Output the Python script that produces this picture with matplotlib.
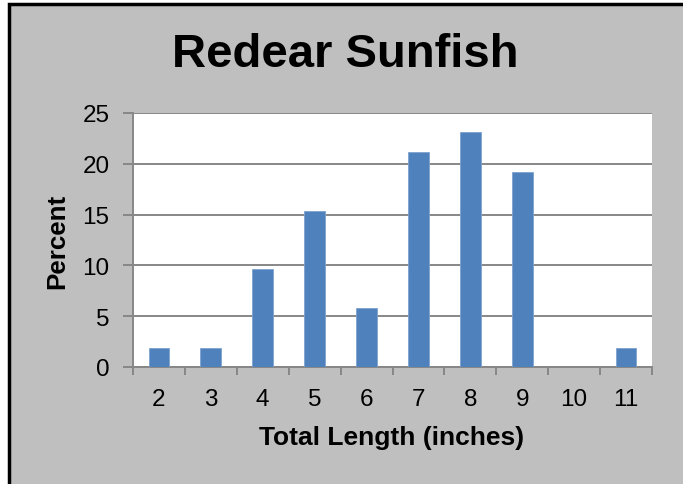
import matplotlib
matplotlib.use("Agg")
import matplotlib.pyplot as plt
from matplotlib.patches import Rectangle

lengths = [2, 3, 4, 5, 6, 7, 8, 9, 10, 11]
percent = [1.9, 1.9, 9.6, 15.4, 5.8, 21.2, 23.1, 19.2, 0.0, 1.9]
yticks = [0, 5, 10, 15, 20, 25]
title = "Redear Sunfish"
xlabel = "Total Length (inches)"
ylabel = "Percent"

plt.rcParams['font.family'] = ['Liberation Sans', 'DejaVu Sans']

W, H = 683, 485
fig = plt.figure(figsize=(W / 100, H / 100), dpi=100, facecolor='white')

# gray chart area with black border
bg = Rectangle((9 / W, -0.01), (W - 9 + 5) / W, (H - 5) / H + 0.01,
               transform=fig.transFigure, facecolor='#BFBFBF',
               edgecolor='black', linewidth=2.5, zorder=-10)
fig.patches.append(bg)

ax = fig.add_axes([133 / W, 1 - 368 / H, (652 - 133) / W, (368 - 114) / H])
ax.set_zorder(5)
ax.set_facecolor('white')
grid_c = '#878787'

ax.bar(lengths, percent, width=0.40, color='#4F81BD', edgecolor='#7EA3D1',
       linewidth=0.6, zorder=3)

ax.set_ylim(0, 25)
ax.set_xlim(lengths[0] - 0.5, lengths[-1] + 0.5)
ax.set_yticks(yticks)
ax.set_yticklabels([str(v) for v in yticks], fontsize=17.5)
ax.yaxis.grid(True, color=grid_c, linewidth=1.4, zorder=1)
ax.set_axisbelow(True)

ax.set_xticks(lengths)
ax.set_xticklabels([str(v) for v in lengths], fontsize=17.5)
ax.set_xticks([v - 0.5 for v in lengths] + [lengths[-1] + 0.5], minor=True)
ax.tick_params(axis='x', which='major', length=0, pad=15)
ax.tick_params(axis='x', which='minor', length=6, width=1.4, color=grid_c)
ax.tick_params(axis='y', which='major', length=7, width=1.4, color=grid_c, pad=10)

for s in ['top', 'right']:
    ax.spines[s].set_visible(False)
for s in ['left', 'bottom']:
    ax.spines[s].set_color(grid_c)
    ax.spines[s].set_linewidth(1.4)

fig.text(345 / W, 1 - 55 / H, title, fontsize=34, fontweight='bold',
         ha='center', va='center', zorder=6)
fig.text(392 / W, 1 - 438 / H, xlabel, fontsize=19, fontweight='bold',
         ha='center', va='center', zorder=6)
fig.text(57 / W, 1 - 241 / H, ylabel, fontsize=18.7, fontweight='bold',
         ha='center', va='center', rotation=90, zorder=6)

fig.savefig('out.png', dpi=100, facecolor=fig.get_facecolor())
